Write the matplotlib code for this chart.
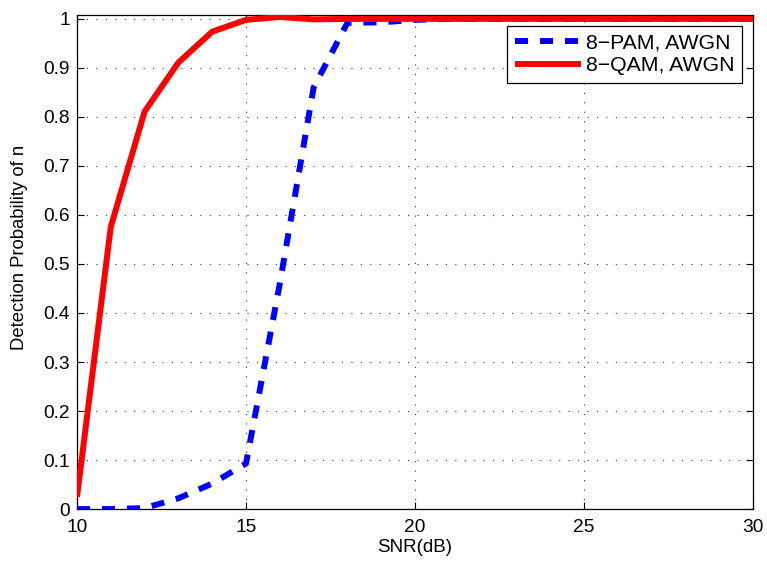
import matplotlib
matplotlib.use("Agg")
import matplotlib.pyplot as plt
import numpy as np

plt.rcParams['font.family'] = ['Liberation Sans', 'DejaVu Sans']
plt.rcParams['lines.scale_dashes'] = False

snr = list(range(10, 31))
pam = [0.0, 0.0, 0.002, 0.022, 0.052, 0.093, 0.46, 0.86, 0.992, 0.993, 0.998,
       1.0, 1.0, 1.0, 1.0, 1.0, 1.0, 1.0, 1.0, 1.0, 1.0]
qam = [0.025, 0.576, 0.811, 0.911, 0.974, 0.998, 1.004, 0.999, 1.0, 1.0, 1.0,
       1.0, 1.0, 1.0, 1.0, 1.0, 1.0, 1.0, 1.0, 1.0, 1.0]
yticks = [0, 0.1, 0.2, 0.3, 0.4, 0.5, 0.6, 0.7, 0.8, 0.9, 1]
ytick_labels = ['0', '0.1', '0.2', '0.3', '0.4', '0.5', '0.6', '0.7', '0.8', '0.9', '1']
xticks = [10, 15, 20, 25, 30]

fig = plt.figure(figsize=(7.67, 5.65), dpi=100)
ax = fig.add_axes([0.1004, 0.099, 0.8814, 0.8745])

ax.plot(snr, pam, color='#0000ff', lw=4.3, linestyle=(0, (9.4, 8.6)),
        dash_capstyle='butt', label='8\u2212PAM, AWGN', zorder=3)
ax.plot(snr, qam, color='#ff0000', lw=4.3, solid_capstyle='butt',
        label='8\u2212QAM, AWGN', zorder=3)

ax.set_xlim(10, 30)
ax.set_ylim(0, 1.008)
ax.set_xticks(xticks)
ax.set_xticklabels([str(t) for t in xticks])
ax.set_yticks(yticks)
ax.set_yticklabels(ytick_labels)
ax.tick_params(direction='in', length=5, width=0.8, top=True, right=True,
               labelsize=13.8)
ax.tick_params(axis='x', pad=7)
ax.tick_params(axis='y', pad=5)
for s in ax.spines.values():
    s.set_linewidth(0.9)
ax.grid(True, color='#333333', linestyle=(0, (0.8, 6)), linewidth=0.8)

ax.set_xlabel('SNR(dB)', fontsize=13.5, labelpad=2)
ax.set_ylabel('Detection Probability of n', fontsize=13.3)
ax.yaxis.set_label_coords(-0.072, 0.53)

leg = ax.legend(loc='upper right', fontsize=15.3, frameon=True, fancybox=False,
                edgecolor='black', framealpha=1, handlelength=3.1,
                borderpad=0.35, labelspacing=0.2, handletextpad=0.28,
                borderaxespad=0.5)
leg.get_frame().set_linewidth(0.9)

fig.savefig('out.png', dpi=100)
